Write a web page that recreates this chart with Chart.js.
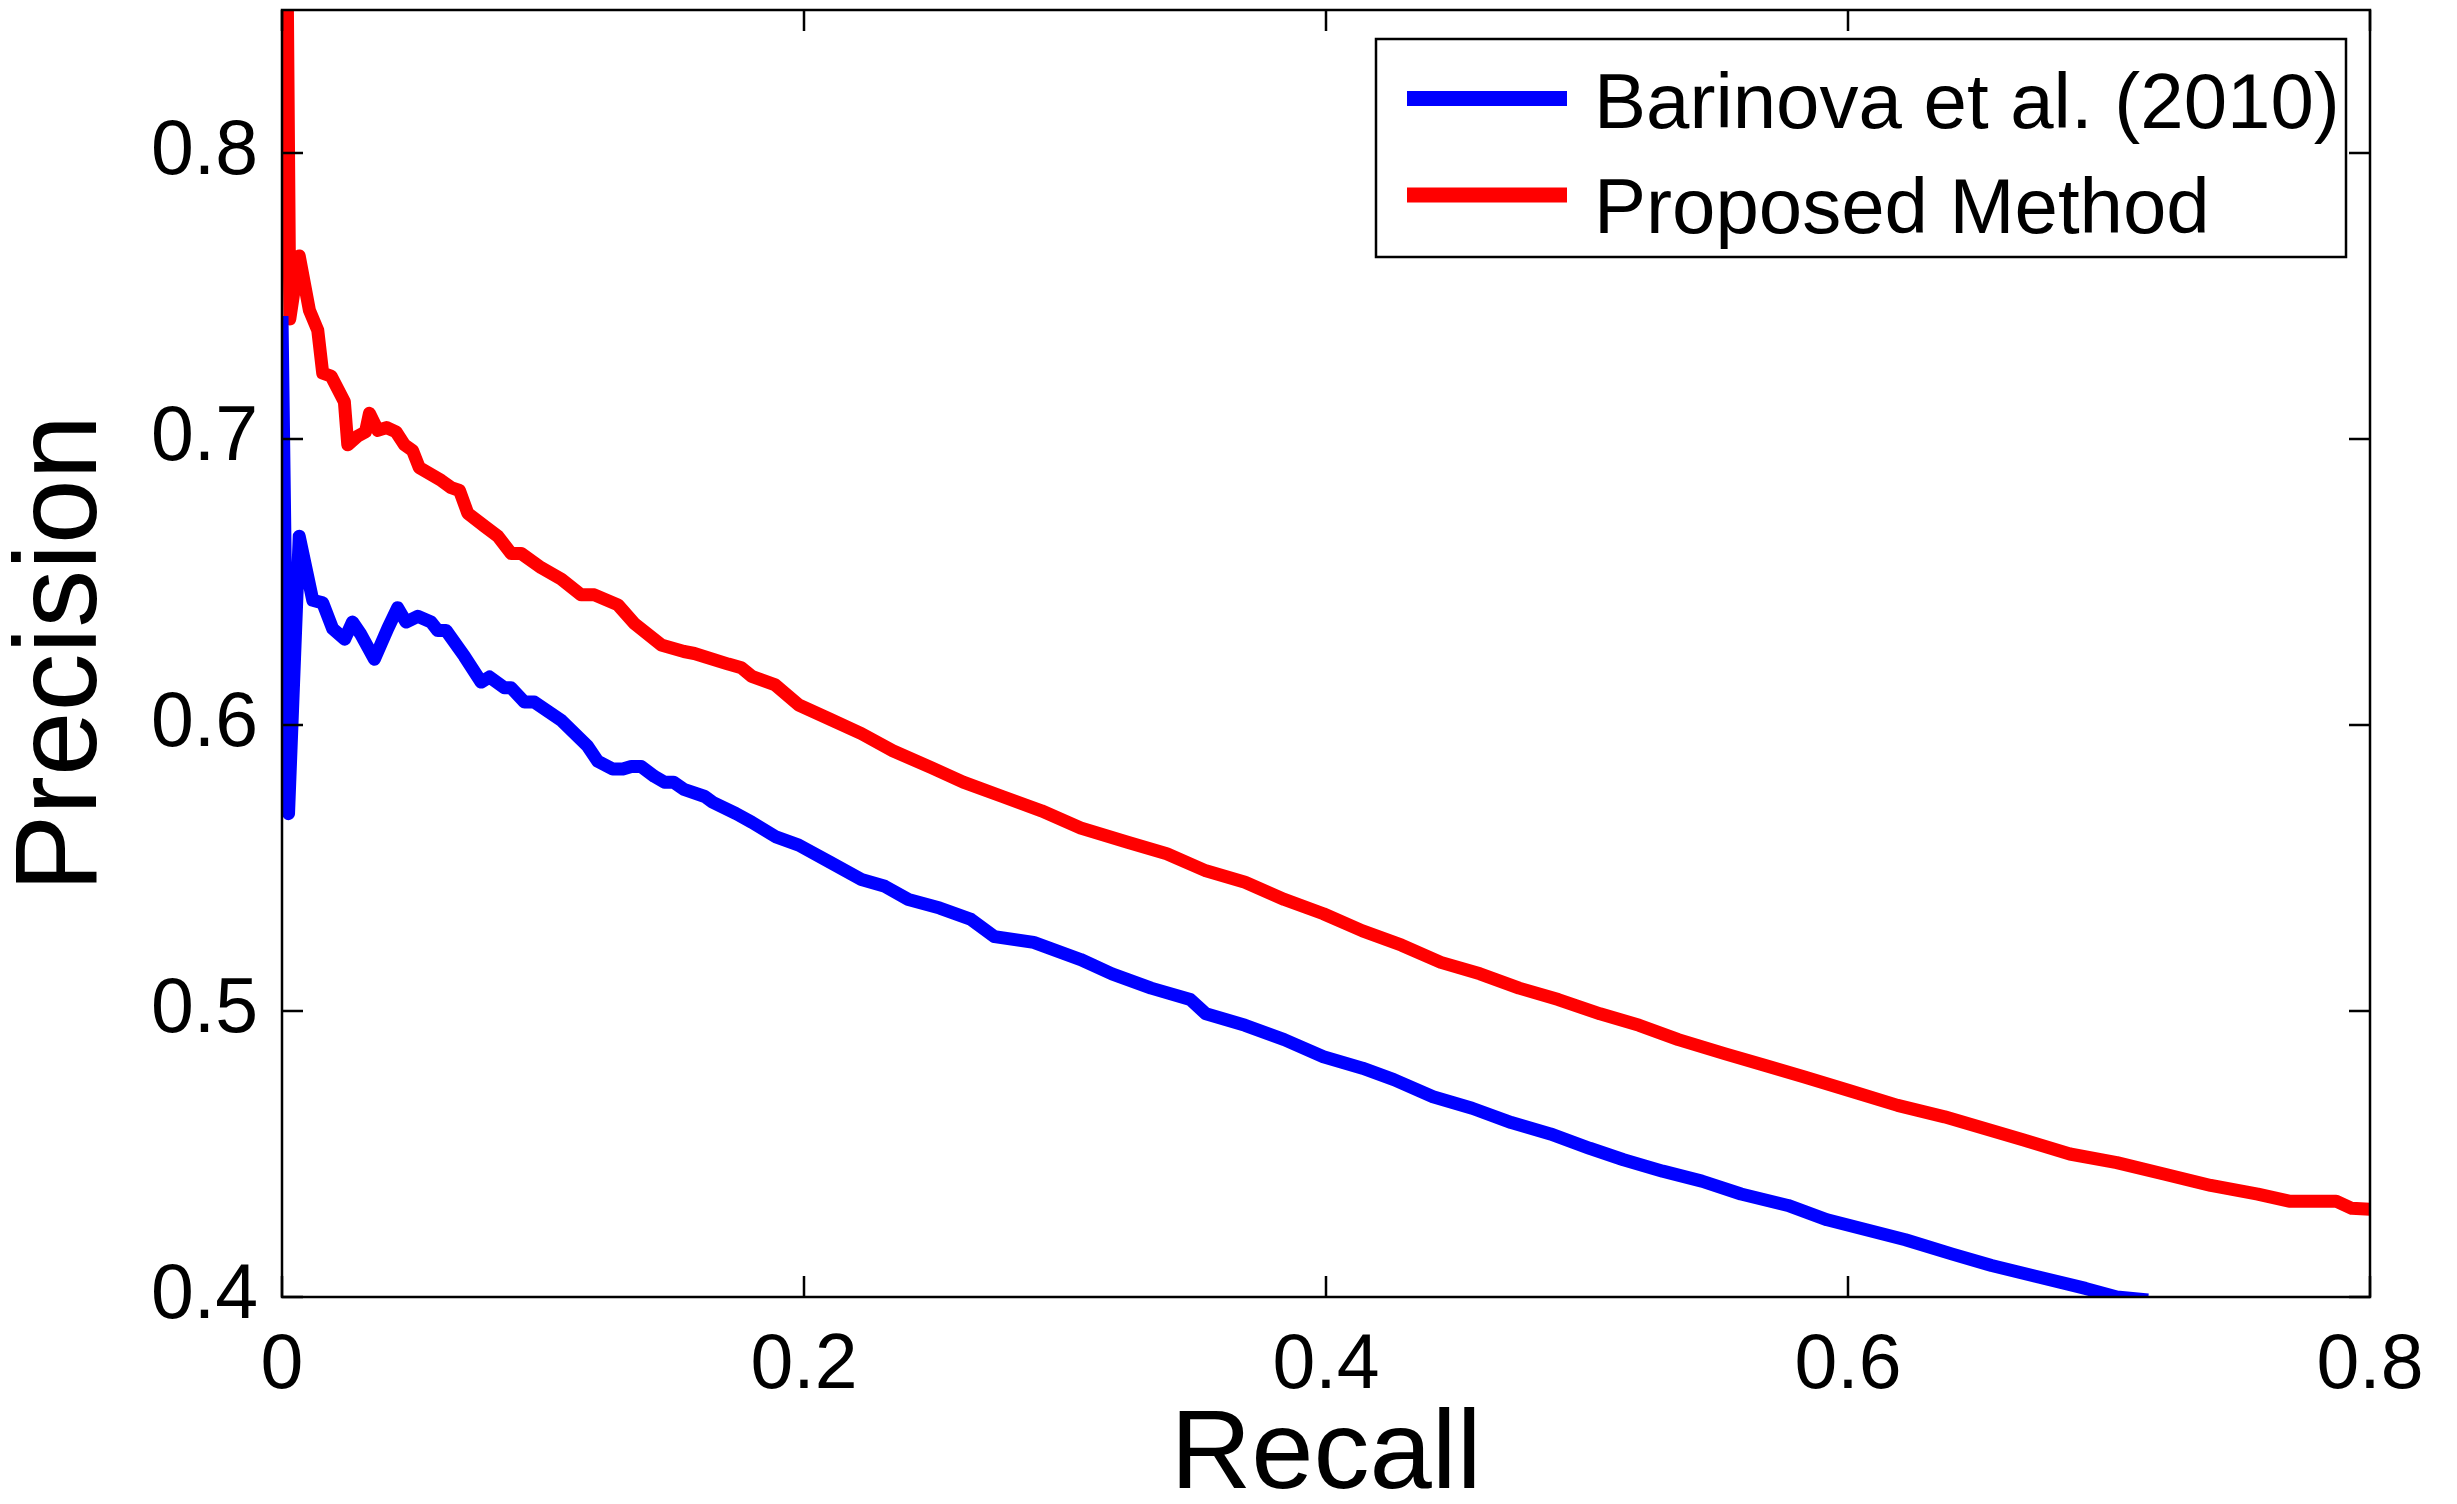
<!DOCTYPE html>
<html>
<head>
<meta charset="utf-8">
<script src="https://cdn.jsdelivr.net/npm/chart.js@4.4.1/dist/chart.umd.min.js"></script>
<style>
  html, body { margin: 0; padding: 0; background: #fff; }
  canvas { display: block; }
</style>
</head>
<body>
<canvas id="chart" width="2457" height="1504"></canvas>
<script>
// data
const seriesNames = ["Barinova et al. (2010)", "Proposed Method"];

const barinovaRecall = [0.0, 0.0025, 0.0066, 0.0118, 0.0156, 0.0194, 0.024, 0.027, 0.030, 0.0354,
  0.0405, 0.0443, 0.0475, 0.052, 0.0571, 0.0597, 0.0629, 0.0699, 0.0763, 0.0795,
  0.0852, 0.0878, 0.0929, 0.0967, 0.107, 0.117, 0.121, 0.1267, 0.1306, 0.1338,
  0.1376, 0.1427, 0.1465, 0.150, 0.154, 0.162, 0.165, 0.174, 0.18, 0.189,
  0.198, 0.21, 0.222, 0.231, 0.24, 0.252, 0.264, 0.273, 0.288, 0.306,
  0.318, 0.333, 0.348, 0.354, 0.369, 0.384, 0.399, 0.414, 0.426, 0.441,
  0.456, 0.471, 0.486, 0.501, 0.514, 0.529, 0.544, 0.559, 0.577, 0.592,
  0.607, 0.622, 0.640, 0.655, 0.673, 0.691, 0.703, 0.715];
const barinovaPrecision = [0.743, 0.569, 0.666, 0.6436, 0.6427, 0.6337, 0.630, 0.636, 0.632, 0.623,
  0.6337, 0.641, 0.636, 0.638, 0.636, 0.633, 0.633, 0.624, 0.615, 0.6168,
  0.613, 0.613, 0.608, 0.608, 0.6016, 0.5927, 0.5873, 0.5846, 0.5846, 0.5855,
  0.5855, 0.582, 0.580, 0.580, 0.5775, 0.575, 0.573, 0.569, 0.566, 0.561,
  0.558, 0.552, 0.546, 0.5436, 0.539, 0.536, 0.532, 0.526, 0.524, 0.518,
  0.513, 0.508, 0.504, 0.499, 0.495, 0.490, 0.484, 0.480, 0.476, 0.470,
  0.466, 0.461, 0.457, 0.452, 0.448, 0.444, 0.4405, 0.436, 0.432, 0.427,
  0.4235, 0.420, 0.415, 0.411, 0.407, 0.403, 0.400, 0.399];

const proposedRecall = [0.0008, 0.003, 0.0066, 0.0105, 0.0137, 0.0156, 0.0188, 0.0239, 0.0252, 0.029,
  0.032, 0.0335, 0.0367, 0.040, 0.0437, 0.0469, 0.050, 0.0526, 0.061, 0.0648,
  0.068, 0.0712, 0.0776, 0.0827, 0.0878, 0.0916, 0.0993, 0.107, 0.1146, 0.1197,
  0.1287, 0.135, 0.1453, 0.154, 0.158, 0.171, 0.176, 0.18, 0.189, 0.198,
  0.210, 0.222, 0.234, 0.249, 0.261, 0.276, 0.291, 0.306, 0.324, 0.339,
  0.354, 0.369, 0.384, 0.399, 0.414, 0.429, 0.444, 0.459, 0.474, 0.489,
  0.505, 0.520, 0.535, 0.553, 0.568, 0.583, 0.601, 0.619, 0.637, 0.652,
  0.667, 0.685, 0.703, 0.721, 0.739, 0.757, 0.769, 0.787, 0.793, 0.8];
const proposedPrecision = [1.0, 0.742, 0.764, 0.745, 0.738, 0.723, 0.722, 0.713, 0.698, 0.701,
  0.7025, 0.709, 0.703, 0.704, 0.7025, 0.698, 0.696, 0.690, 0.6855, 0.683,
  0.682, 0.674, 0.6695, 0.666, 0.660, 0.660, 0.655, 0.651, 0.6455, 0.6455,
  0.642, 0.6355, 0.628, 0.6257, 0.625, 0.6213, 0.620, 0.617, 0.614, 0.607,
  0.602, 0.597, 0.591, 0.585, 0.580, 0.575, 0.570, 0.564, 0.559, 0.555,
  0.549, 0.545, 0.539, 0.534, 0.528, 0.523, 0.517, 0.513, 0.508, 0.504,
  0.499, 0.495, 0.490, 0.485, 0.481, 0.477, 0.472, 0.467, 0.463, 0.459,
  0.455, 0.450, 0.447, 0.443, 0.439, 0.436, 0.4335, 0.4335, 0.431, 0.4307];

const xTicks = [0, 0.2, 0.4, 0.6, 0.8];
const yTicks = [0.4, 0.5, 0.6, 0.7, 0.8];

const FONT = "'Liberation Sans', Arial, Helvetica, sans-serif";

function toPoints(xs, ys) {
  return xs.map((x, i) => ({ x: x, y: ys[i] }));
}

// box, inward ticks on all four sides, and the legend
const matlabAxes = {
  id: "matlabAxes",
  afterDatasetsDraw(chart) {
    const ctx = chart.ctx;
    const a = chart.chartArea;
    const xs = chart.scales.x, ys = chart.scales.y;
    const tl = 21;
    ctx.save();
    ctx.strokeStyle = "#000";
    ctx.lineWidth = 2.5;
    ctx.beginPath();
    xTicks.forEach(v => {
      const px = xs.getPixelForValue(v);
      ctx.moveTo(px, a.bottom); ctx.lineTo(px, a.bottom - tl);
      ctx.moveTo(px, a.top); ctx.lineTo(px, a.top + tl);
    });
    yTicks.forEach(v => {
      const py = ys.getPixelForValue(v);
      ctx.moveTo(a.left, py); ctx.lineTo(a.left + tl, py);
      ctx.moveTo(a.right, py); ctx.lineTo(a.right - tl, py);
    });
    ctx.stroke();
    ctx.strokeRect(a.left, a.top, a.right - a.left, a.bottom - a.top);

    // legend
    const bx = 1376, by = 39, bw = 970, bh = 218;
    ctx.fillStyle = "#fff";
    ctx.fillRect(bx, by, bw, bh);
    ctx.lineWidth = 2.5;
    ctx.strokeRect(bx, by, bw, bh);
    ctx.font = "78px " + FONT;
    ctx.textBaseline = "alphabetic";
    const lineY = [98.5, 195];
    const textY = [128, 233];
    chart.data.datasets.forEach((ds, i) => {
      ctx.strokeStyle = ds.borderColor;
      ctx.lineWidth = 15;
      ctx.beginPath();
      ctx.moveTo(1407, lineY[i]); ctx.lineTo(1567, lineY[i]);
      ctx.stroke();
      ctx.fillStyle = "#000";
      ctx.fillText(ds.label, 1594, textY[i]);
    });
    ctx.restore();
  }
};

const ctx = document.getElementById("chart").getContext("2d");
new Chart(ctx, {
  type: "line",
  data: {
    datasets: [
      {
        label: seriesNames[0],
        data: toPoints(barinovaRecall, barinovaPrecision),
        borderColor: "#0000ff",
        borderWidth: 13,
        pointRadius: 0,
        tension: 0,
        fill: false,
        clip: 0,
        borderJoinStyle: "round",
        borderCapStyle: "butt"
      },
      {
        label: seriesNames[1],
        data: toPoints(proposedRecall, proposedPrecision),
        borderColor: "#ff0000",
        borderWidth: 13,
        pointRadius: 0,
        tension: 0,
        fill: false,
        clip: 0,
        borderJoinStyle: "round",
        borderCapStyle: "butt"
      }
    ]
  },
  options: {
    responsive: false,
    animation: false,
    devicePixelRatio: 1,
    layout: { padding: { top: 10, right: 87, bottom: 0, left: 0 } },
    plugins: {
      legend: { display: false },
      tooltip: { enabled: false }
    },
    scales: {
      x: {
        type: "linear",
        min: 0,
        max: 0.8,
        afterBuildTicks: s => { s.ticks = xTicks.map(v => ({ value: v })); },
        afterFit: s => { s.height = 207; s.paddingLeft = 0; s.paddingRight = 0; },
        grid: { display: false, drawTicks: false },
        border: { display: false },
        ticks: {
          padding: 24,
          color: "#000",
          font: { family: FONT, size: 77 },
          callback: v => String(+v.toFixed(1))
        },
        title: {
          display: true,
          text: "Recall",
          color: "#000",
          padding: 0,
          font: { family: FONT, size: 112, lineHeight: 0.84 }
        }
      },
      y: {
        type: "linear",
        min: 0.4,
        max: 0.85,
        afterBuildTicks: s => { s.ticks = yTicks.map(v => ({ value: v })); },
        afterFit: s => { s.width = 282; s.paddingTop = 0; s.paddingBottom = 0; },
        grid: { display: false, drawTicks: false },
        border: { display: false },
        ticks: {
          padding: 24,
          color: "#000",
          font: { family: FONT, size: 77 },
          callback: v => v.toFixed(1)
        },
        title: {
          display: true,
          text: "Precision",
          color: "#000",
          padding: 0,
          font: { family: FONT, size: 116, lineHeight: 1.1 }
        }
      }
    }
  },
  plugins: [matlabAxes]
});
</script>
</body>
</html>
